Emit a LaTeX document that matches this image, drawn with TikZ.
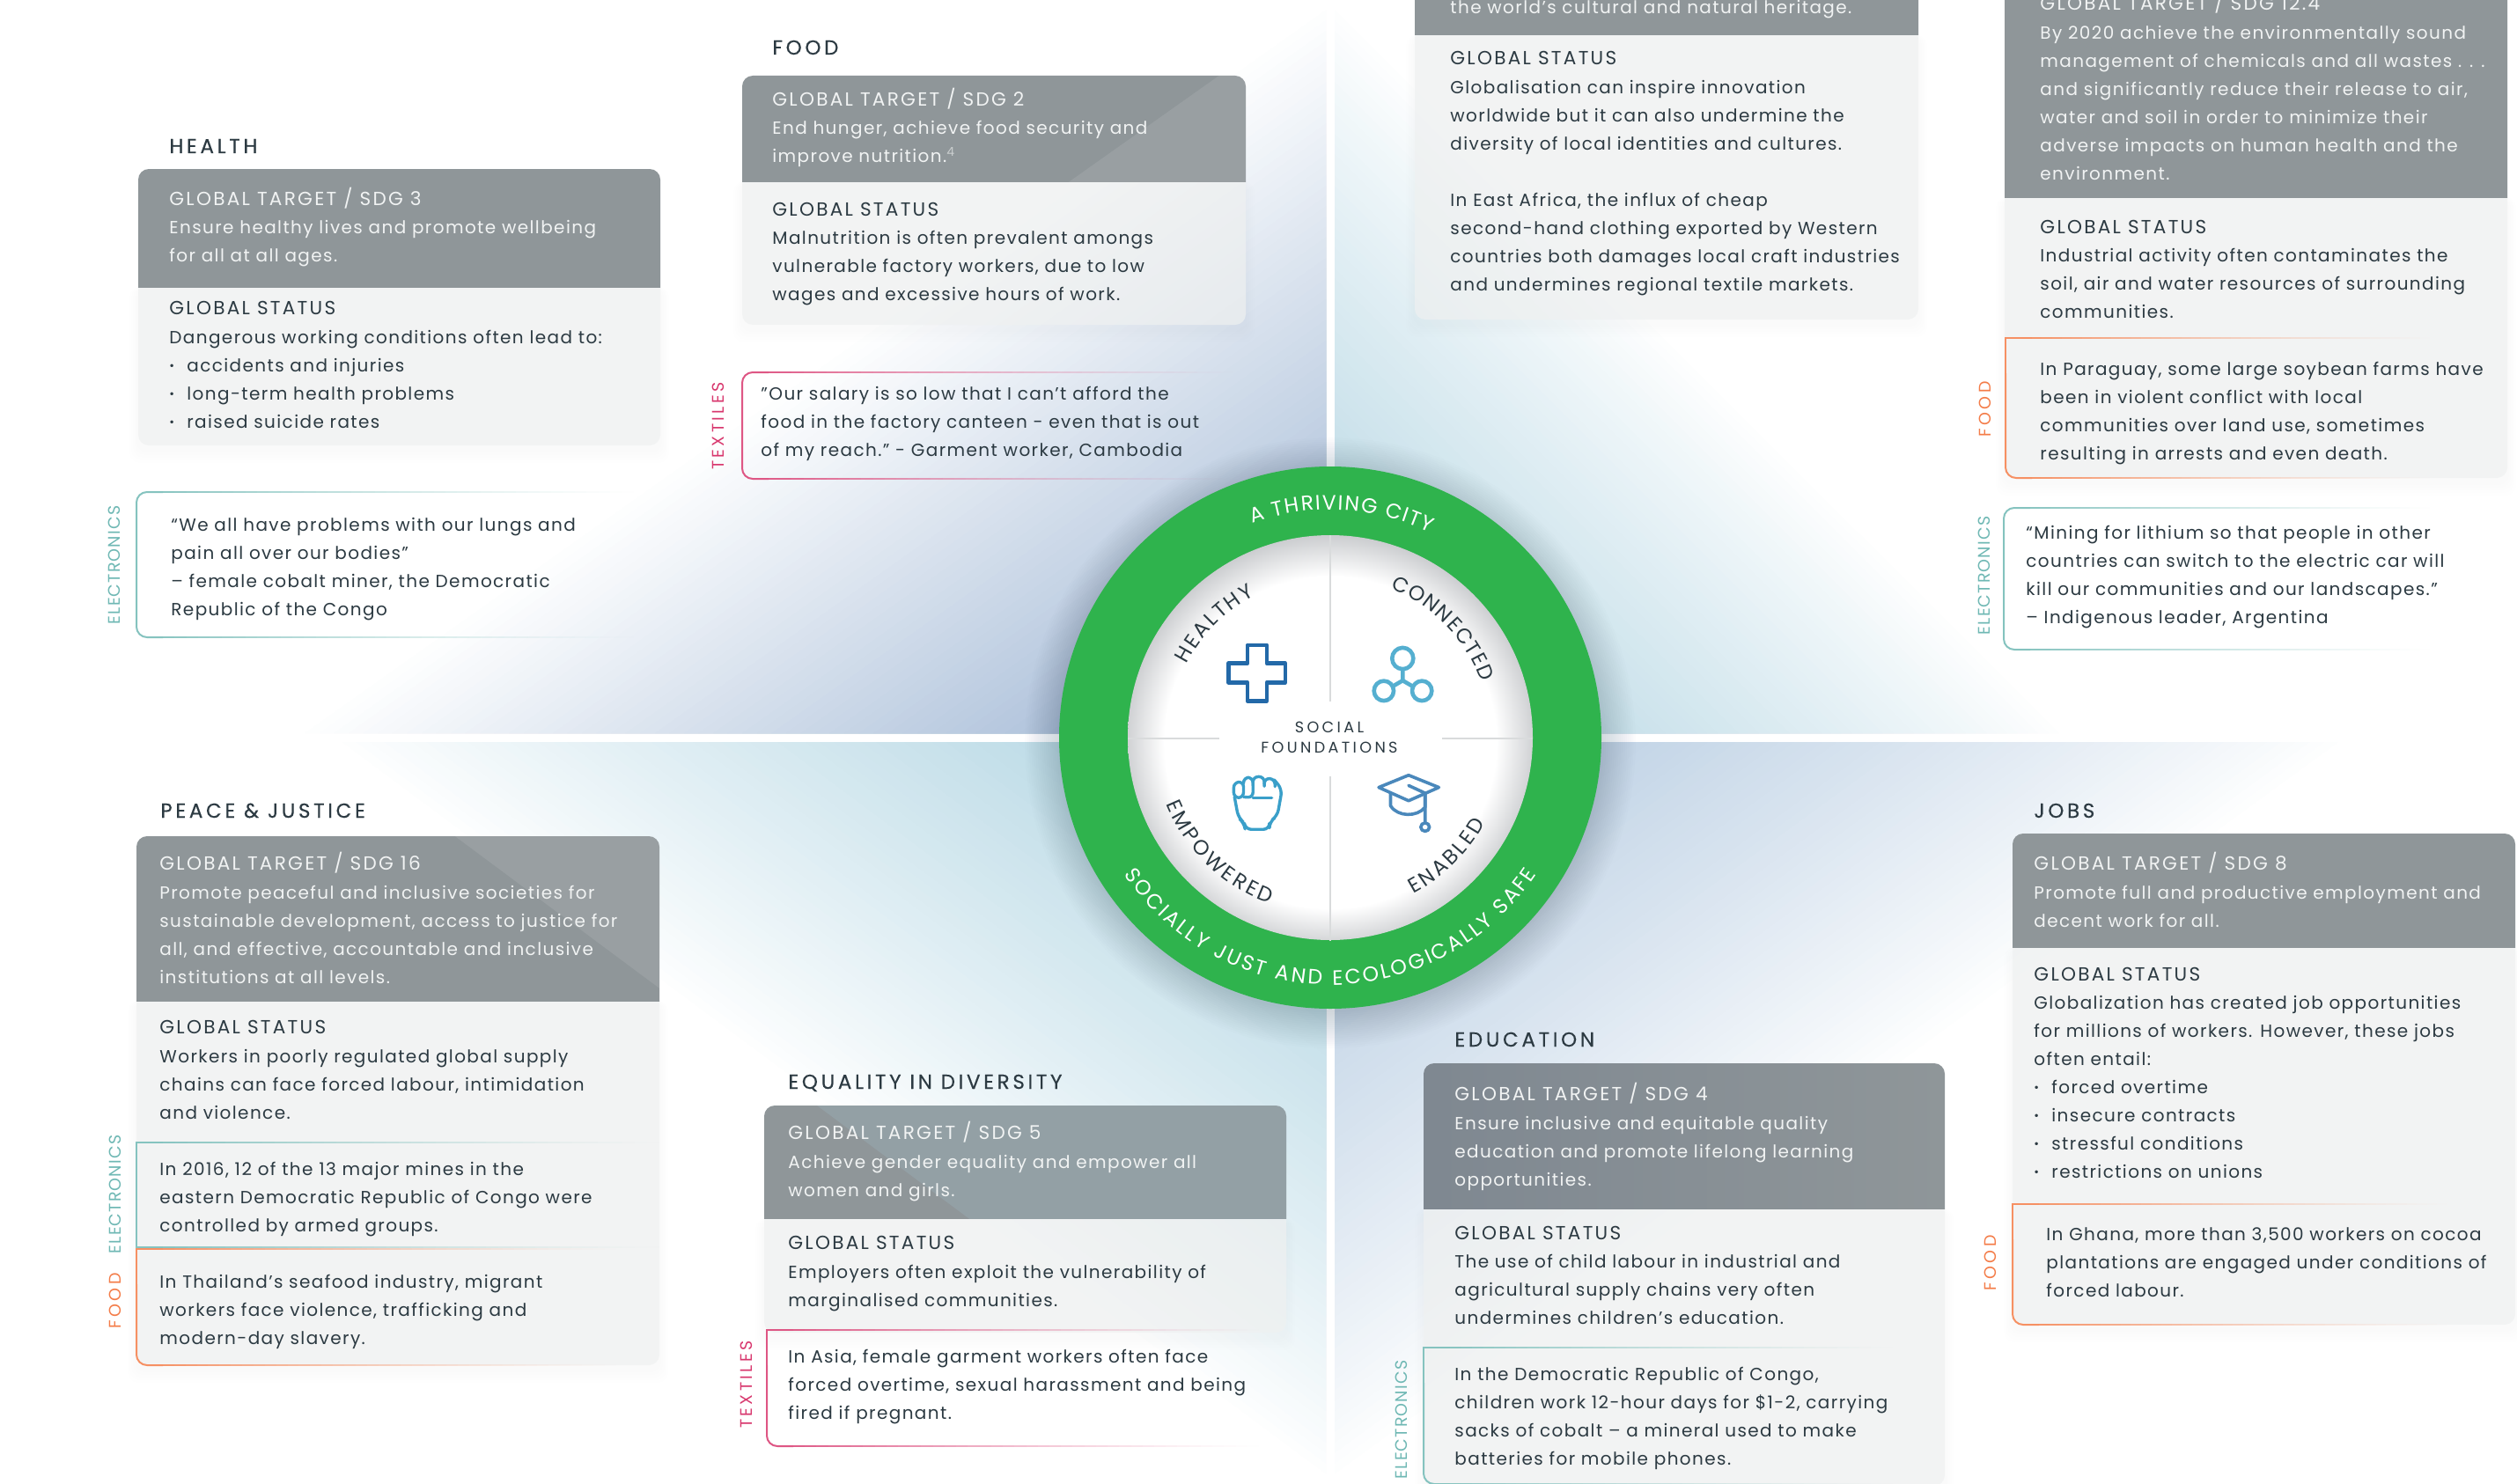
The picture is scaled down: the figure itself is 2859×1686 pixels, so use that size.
\documentclass[tikz,border=0pt]{standalone}
\usepackage{fontspec}
\setmainfont[LetterSpace=7]{Poppins}
\newfontfamily\ttlf[LetterSpace=16,FakeBold=0.25]{Poppins}
\newfontfamily\gtf[LetterSpace=10.5]{Poppins}
\newfontfamily\labf[LetterSpace=6]{Poppins}
\newfontfamily\labg[LetterSpace=18]{Poppins}
\newfontfamily\socf[LetterSpace=19]{Poppins}
\newfontfamily\arcf{Poppins}
\usetikzlibrary{decorations.text}
\definecolor{txtdark}{HTML}{2C3A42}
\definecolor{hdrc}{HTML}{8F9699}
\definecolor{statc}{HTML}{EFF1F1}
\definecolor{hdrt}{HTML}{F1F3F3}
\definecolor{teall}{HTML}{6FB8B4}
\definecolor{orangel}{HTML}{F47C48}
\definecolor{pinkl}{HTML}{D8386E}
\definecolor{tlc}{HTML}{94AECF}
\definecolor{trc}{HTML}{AAD0DF}
\definecolor{blc}{HTML}{A8D0DF}
\definecolor{brc}{HTML}{AEC6DE}
\definecolor{ringc}{HTML}{2FB34D}
\definecolor{shadowc}{HTML}{34476B}
\definecolor{innergrey}{HTML}{C4C6C9}
\definecolor{linec}{HTML}{D9DBDC}
\definecolor{crossc}{HTML}{2369A8}
\definecolor{connc}{HTML}{55AFD0}
\definecolor{fistc}{HTML}{3A9FC9}
\definecolor{capc}{HTML}{4A88BB}
\pgfdeclareradialshading{innershade}{\pgfpoint{0bp}{-1bp}}{color(0bp)=(white); color(20.5bp)=(white); color(26.2bp)=(innergrey); color(50bp)=(innergrey)}
\tikzset{
  blockt/.style={anchor=north west,inner sep=0pt,align=left,font=\fontsize{10}{16}\selectfont},
  titlet/.style={anchor=base west,inner sep=0pt,text=txtdark,font=\fontsize{11.5}{14}\selectfont\ttlf},
  gtitle/.style={anchor=base west,inner sep=0pt,font=\fontsize{10.8}{14}\selectfont\gtf},
  labelt/.style={inner sep=0pt,rotate=90,font=\fontsize{9.5}{12}\selectfont\labf},
  labelw/.style={inner sep=0pt,rotate=90,font=\fontsize{9.5}{12}\selectfont\labg},
  icon/.style={line width=2.3pt,line join=round,line cap=round},
  fistline/.style={icon,fistc,line width=1.7pt},
}
% #1 style, #2 x0, #3 y0, #4 x1, #5 y1
\newcommand{\hdr}[5]{\begin{scope}\clip (#2,#3) rectangle (#4,#5);\fill[#1,rounded corners=6pt] (#2,#3) rectangle (#4,#5+30);\end{scope}}
\newcommand{\stat}[4]{%
  \foreach \k in {1,...,5}{\fill[black,opacity=.003,rounded corners=6pt] (#1-\k*2,#2) rectangle (#3+\k*2,#4+5+\k*3);}
  \begin{scope}\clip (#1,#2) rectangle (#3,#4);\fill[statc,fill opacity=.7,rounded corners=6pt] (#1,#2-30) rectangle (#3,#4);\end{scope}}
% faded horizontal rule: x0, x1, y, colour
\newcommand{\fadeh}[4]{%
  \foreach \j in {0,...,39}{%
    \pgfmathsetmacro\xa{round((#1)+\j/40*((#2)-(#1)))}%
    \pgfmathsetmacro\xb{round((#1)+(\j+1)/40*((#2)-(#1)))}%
    \pgfmathsetmacro\op{pow(1-\j/40,1.4)*.95}%
    \fill[#4,opacity=\op] (\xa,#3-1) rectangle (\xb,#3+1);}}
% x, y0, y1, xfade, colour, rtop, rbottom
\newcommand{\qbox}[7]{%
  \draw[#5!85!white,line width=1pt,rounded corners=#6pt] (#1+30,#2) -- (#1,#2) -- (#1,#2+40);
  \draw[#5!85!white,line width=1pt,rounded corners=#7pt] (#1,#2+40) -- (#1,#3) -- (#1+30,#3);
  \fadeh{#1+30}{#4}{#2}{#5!85!white}
  \fadeh{#1+30}{#4}{#3}{#5!85!white}}
\newcommand{\blk}[5]{\node[blockt,text=#4] (#1) at (#2,#3-16) {\rule{0pt}{8pt}#5};}
\newcommand{\bul}{\makebox[10pt][l]{\fontsize{7}{7}\selectfont\raisebox{1pt}{•}}}
% nested triangles: cx cy ax ay bx by colour exponent
\newcommand{\tri}[8]{%
  \foreach \i in {1,...,70}{%
    \pgfmathsetmacro\s{1-\i/71}%
    \pgfmathsetmacro\p{100*pow(\i/71,#8)}%
    \fill[#7!\p!white] (#1,#2) -- ({#1+\s*(#3-#1)},{#2+\s*(#4-#2)}) -- ({#1+\s*(#5-#1)},{#2+\s*(#6-#2)}) -- cycle;}}
\newcommand{\ringw}{\arcf\fontsize{11.8}{14}\selectfont\color{white}}
\newcommand{\ringd}{\arcf\fontsize{11.8}{14}\selectfont\color{txtdark}}
\newcommand{\arctext}[5]{\path[decorate,decoration={text along path,text align=fit to path,text={|#5|#4}}] (#1:#3) arc[start angle=#1,end angle=#2,radius=#3];}
\begin{document}
\begin{tikzpicture}[x=.5pt,y=-.5pt]
\useasboundingbox (0,0) rectangle (2859,1686);
\fill[white] (0,0) rectangle (2859,1686);
% background quadrants
\tri{1506}{833}{1506}{0}{330}{833}{tlc}{1.0}
\tri{1516}{833}{1516}{0}{2350}{833}{trc}{.9}
\tri{1506}{843}{373}{843}{1506}{1686}{blc}{.9}
\tri{1516}{843}{2672}{843}{1516}{1686}{brc}{.9}
% central circle
\foreach \k in {0,...,17}{\fill[shadowc,opacity=.013] (1511,844) circle ({306+\k*2.4});}
\fill[ringc] (1511,838) circle (308);
\shade[shading=innershade] (1511,838) circle (230);
\draw[linec,line width=1pt] (1511,608) -- (1511,797);
\draw[linec,line width=1pt] (1511,882) -- (1511,1069);
\draw[linec,line width=1pt] (1281,839) -- (1385,839);
\draw[linec,line width=1pt] (1638,839) -- (1741,839);
\begin{scope}[shift={(1511,838)},y=.5pt]
\arctext{110}{64}{259}{A THRIVING CITY}{\ringw}
\arctext{213.5}{326.5}{281}{SOCIALLY JUST AND ECOLOGICALLY SAFE}{\ringw}
\arctext{153}{118}{183}{HEALTHY}{\ringd}
\arctext{68}{20}{183}{CONNECTED}{\ringd}
\arctext{202}{250}{201}{EMPOWERED}{\ringd}
\arctext{-62}{-29}{201}{ENABLED}{\ringd}
\end{scope}
\node[inner sep=0pt,align=center,text=txtdark,font=\fontsize{8.8}{11.5}\selectfont\socf,anchor=center] (social) at (1510,838) {SOCIAL\\FOUNDATIONS};
% icons, in crop coordinates
\begin{scope}[shift={(1150,500)},x=.2232pt,y=-.2168pt]
\draw[icon,crossc] (598,537) -- (647,537) -- (647,585) -- (694,585) -- (694,635) -- (647,635) -- (647,684) -- (598,684) -- (598,635) -- (550,635) -- (550,585) -- (598,585) -- cycle;
\draw[icon,connc] (993,572) circle[x radius=27,y radius=28];
\draw[icon,connc] (945,657) circle[x radius=25,y radius=26];
\draw[icon,connc] (1042,657) circle[x radius=25,y radius=26];
\draw[icon,connc] (993,600) -- (993,630) -- (968,645);
\draw[icon,connc] (993,630) -- (1018,645);
\draw[fistline,rounded corners=3pt] (563,897) -- (563,937) -- (588,937) -- (588,895) -- cycle;
\draw[fistline,rounded corners=3pt] (588,935) -- (612,937) -- (612,884) -- (588,884) -- (588,900);
\draw[fistline,rounded corners=3pt] (612,905) -- (612,882) -- (641,882) -- (641,907);
\draw[fistline,rounded corners=3pt] (641,900) -- (641,886) -- (668,888) -- (668,908);
\draw[fistline,rounded corners=3.5pt] (666,890) -- (686,915) -- (674,985) -- (654,1000) -- (654,1020) -- (592,1020) -- (590,1003) -- (575,990) -- (565,935);
\draw[fistline] (612,937) -- (660,937);
\draw[icon,capc,line width=1.8pt] (932,910) -- (1008,878) -- (1085,910) -- (1008,945) -- cycle;
\draw[icon,capc,line width=1.8pt] (962,925) -- (962,958) .. controls (980,988) and (1030,988) .. (1050,962) -- (1050,925);
\draw[icon,capc,line width=1.8pt] (1008,905) -- (1050,925) -- (1050,1002);
\draw[icon,capc,line width=1.8pt] (1050,1014) circle[x radius=11,y radius=11];
\end{scope}
% cards
% HEALTH
\stat{157}{326}{750}{506}
\hdr{hdrc}{157}{192}{750}{326}
\qbox{155}{559}{724}{720}{teall}{6}{6}
% FOOD
\stat{843}{206}{1415}{369}
\hdr{hdrc}{843}{86}{1415}{206}
\begin{scope}\clip (1506,0)--(1506,833)--(330,833)--cycle;\hdr{white,opacity=.09}{843}{86}{1415}{206}\end{scope}
\qbox{843}{423}{544}{1400}{pinkl}{6}{6}
% HERITAGE
\stat{1607}{40}{2179}{363}
\hdr{hdrc}{1607}{-30}{2179}{40}
% SDG 12.4
\stat{2277}{224}{2848}{543}
\hdr{hdrc}{2277}{-30}{2848}{224}
\qbox{2278}{384}{543}{2760}{orangel}{0}{6}
\qbox{2276}{577}{738}{2760}{teall}{6}{6}
% PEACE
\stat{155}{1137}{749}{1551}
\hdr{hdrc}{155}{950}{749}{1137}
\begin{scope}\clip (1506,843)--(373,843)--(1506,1686)--cycle;\hdr{white,opacity=.09}{155}{950}{749}{1137}\end{scope}
\qbox{155}{1298}{1417}{749}{teall}{0}{0}
\qbox{155}{1419}{1551}{700}{orangel}{0}{6}
% EQUALITY
\stat{868}{1384}{1461}{1514}
\hdr{hdrc}{868}{1256}{1461}{1384}
\begin{scope}\clip (1506,843)--(373,843)--(1506,1686)--cycle;\hdr{trc,opacity=.18}{868}{1256}{1461}{1384}\end{scope}
\qbox{871}{1511}{1643}{1430}{pinkl}{0}{6}
% EDUCATION
\stat{1617}{1373}{2209}{1688}
\begin{scope}\clip (1617,1208) rectangle (2209,1373);\shade[left color=hdrc!82!shadowc,right color=hdrc,rounded corners=6pt] (1617,1208) rectangle (2209,1403);\end{scope}
\qbox{1617}{1531}{1686}{2150}{teall}{0}{6}
% JOBS
\stat{2286}{1076}{2857}{1505}
\hdr{hdrc}{2286}{947}{2857}{1076}
\qbox{2286}{1368}{1505}{2780}{orangel}{0}{6}
% titles
\node[titlet] (thealth) at (192,174) {HEALTH};
\node[titlet] (tfood) at (877,62) {FOOD};
\node[titlet] (tpeace) at (182,929) {PEACE \& JUSTICE};
\node[titlet] (tequal) at (895,1237) {EQUALITY IN DIVERSITY};
\node[titlet] (tedu) at (1652,1189) {EDUCATION};
\node[titlet] (tjobs) at (2310,929) {JOBS};
% health text
\node[gtitle,text=hdrt] (gt3) at (192,233) {GLOBAL TARGET / SDG 3};
\blk{b3}{192}{265}{hdrt}{Ensure healthy lives and promote wellbeing\\for all at all ages.}
\node[gtitle,text=txtdark] (gs3) at (192,357) {GLOBAL STATUS};
\blk{s3}{192}{390}{txtdark}{Dangerous working conditions often lead to:\\\bul accidents and injuries\\\bul long-term health problems\\\bul raised suicide rates}
\blk{q3}{194}{603}{txtdark}{“We all have problems with our lungs and\\pain all over our bodies”\\– female cobalt miner, the Democratic\\Republic of the Congo}
\node[labelt,text=teall] (l3) at (130,642) {ELECTRONICS};
% food text
\node[gtitle,text=hdrt] (gt2) at (877,120) {GLOBAL TARGET / SDG 2};
\blk{b2}{877}{152}{hdrt}{End hunger, achieve food security and\\improve nutrition.{\color{hdrt!60!hdrc}\textsuperscript{4}}}
\node[gtitle,text=txtdark] (gs2) at (877,245) {GLOBAL STATUS};
\blk{s2}{877}{277}{txtdark}{Malnutrition is often prevalent amongs\\vulnerable factory workers, due to low\\wages and excessive hours of work.}
\blk{q2}{864}{454}{txtdark}{"Our salary is so low that I can’t afford the\\food in the factory canteen - even that is out\\of my reach." - Garment worker, Cambodia}
\node[labelw,text=pinkl] (l2) at (816,484) {TEXTILES};
% heritage text
\blk{b11}{1647}{15}{hdrt}{the world’s cultural and natural heritage.}
\node[gtitle,text=txtdark] (gs11) at (1647,74) {GLOBAL STATUS};
\blk{s11}{1647}{106}{txtdark}{Globalisation can inspire innovation\\worldwide but it can also undermine the\\diversity of local identities and cultures.\\[16pt]In East Africa, the influx of cheap\\second-hand clothing exported by Western\\countries both damages local craft industries\\and undermines regional textile markets.}
% 12.4 text
\node[gtitle,text=hdrt] (gt12) at (2317,12) {GLOBAL TARGET / SDG 12.4};
\blk{b12}{2317}{44}{hdrt}{By 2020 achieve the environmentally sound\\management of chemicals and all wastes . . .\\and significantly reduce their release to air,\\water and soil in order to minimize their\\adverse impacts on human health and the\\environment.}
\node[gtitle,text=txtdark] (gs12) at (2317,265) {GLOBAL STATUS};
\blk{s12}{2317}{297}{txtdark}{Industrial activity often contaminates the\\soil, air and water resources of surrounding\\communities.}
\blk{f12}{2317}{426}{txtdark}{In Paraguay, some large soybean farms have\\been in violent conflict with local\\communities over land use, sometimes\\resulting in arrests and even death.}
\node[labelw,text=orangel] (lf12) at (2255,465) {FOOD};
\blk{q12}{2301}{612}{txtdark}{“Mining for lithium so that people in other\\countries can switch to the electric car will\\kill our communities and our landscapes.”\\– Indigenous leader, Argentina}
\node[labelt,text=teall] (le12) at (2254,654) {ELECTRONICS};
% peace text
\node[gtitle,text=hdrt] (gt16) at (181,988) {GLOBAL TARGET / SDG 16};
\blk{b16}{181}{1021}{hdrt}{Promote peaceful and inclusive societies for\\sustainable development, access to justice for\\all, and effective, accountable and inclusive\\institutions at all levels.}
\node[gtitle,text=txtdark] (gs16) at (181,1174) {GLOBAL STATUS};
\blk{s16}{181}{1207}{txtdark}{Workers in poorly regulated global supply\\chains can face forced labour, intimidation\\and violence.}
\blk{e16}{181}{1335}{txtdark}{In 2016, 12 of the 13 major mines in the\\eastern Democratic Republic of Congo were\\controlled by armed groups.}
\blk{f16}{181}{1463}{txtdark}{In Thailand’s seafood industry, migrant\\workers face violence, trafficking and\\modern-day slavery.}
\node[labelt,text=teall] (le16) at (131,1357) {ELECTRONICS};
\node[labelw,text=orangel] (lf16) at (131,1478) {FOOD};
% equality text
\node[gtitle,text=hdrt] (gt5) at (895,1294) {GLOBAL TARGET / SDG 5};
\blk{b5}{895}{1327}{hdrt}{Achieve gender equality and empower all\\women and girls.}
\node[gtitle,text=txtdark] (gs5) at (895,1419) {GLOBAL STATUS};
\blk{s5}{895}{1452}{txtdark}{Employers often exploit the vulnerability of\\marginalised communities.}
\blk{q5}{895}{1548}{txtdark}{In Asia, female garment workers often face\\forced overtime, sexual harassment and being\\fired if pregnant.}
\node[labelw,text=pinkl] (l5) at (848,1573) {TEXTILES};
% education text
\node[gtitle,text=hdrt] (gt4) at (1652,1250) {GLOBAL TARGET / SDG 4};
\blk{b4}{1652}{1283}{hdrt}{Ensure inclusive and equitable quality\\education and promote lifelong learning\\opportunities.}
\node[gtitle,text=txtdark] (gs4) at (1652,1408) {GLOBAL STATUS};
\blk{s4}{1652}{1440}{txtdark}{The use of child labour in industrial and\\agricultural supply chains very often\\undermines children’s education.}
\blk{e4}{1652}{1568}{txtdark}{In the Democratic Republic of Congo,\\children work 12-hour days for \$1-2, carrying\\sacks of cobalt – a mineral used to make\\batteries for mobile phones.}
\node[labelt,text=teall] (l4) at (1592,1613) {ELECTRONICS};
% jobs text
\node[gtitle,text=hdrt] (gt8) at (2310,988) {GLOBAL TARGET / SDG 8};
\blk{b8}{2310}{1021}{hdrt}{Promote full and productive employment and\\decent work for all.}
\node[gtitle,text=txtdark] (gs8) at (2310,1114) {GLOBAL STATUS};
\blk{s8}{2310}{1146}{txtdark}{Globalization has created job opportunities\\for millions of workers. However, these jobs\\often entail:\\\bul forced overtime\\\bul insecure contracts\\\bul stressful conditions\\\bul restrictions on unions}
\blk{f8}{2324}{1409}{txtdark}{In Ghana, more than 3,500 workers on cocoa\\plantations are engaged under conditions of\\forced labour.}
\node[labelw,text=orangel] (l8) at (2261,1435) {FOOD};
\end{tikzpicture}
\end{document}
